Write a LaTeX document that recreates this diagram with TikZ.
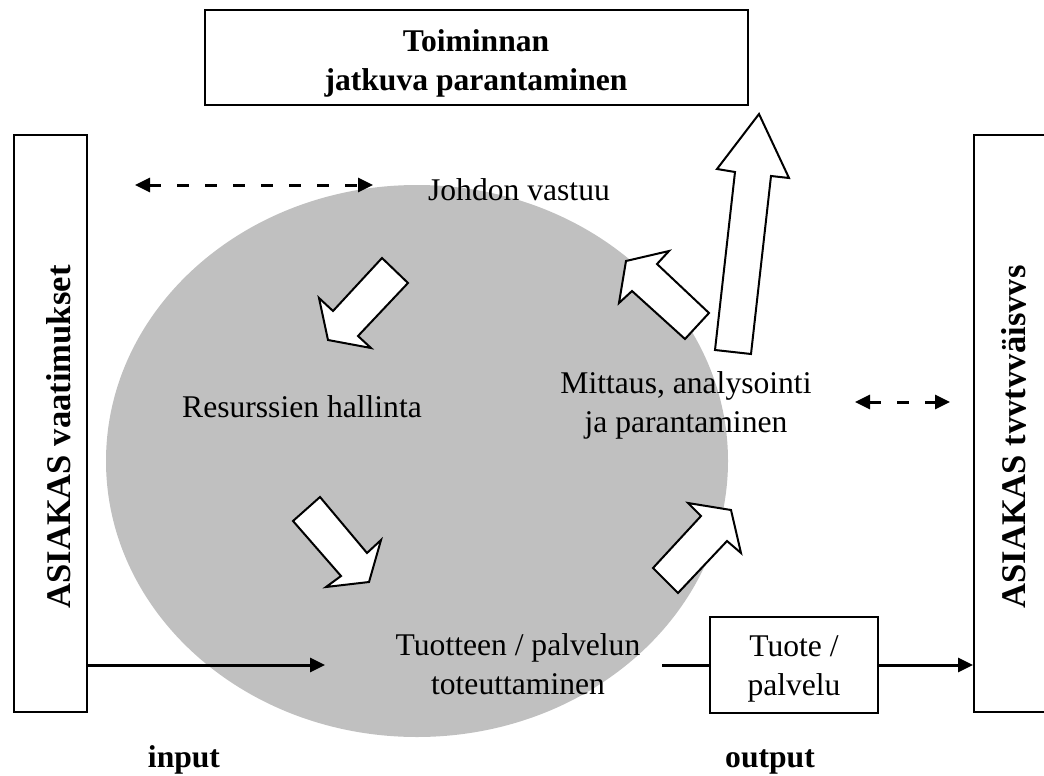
\documentclass[tikz,border=0pt]{standalone}
\usepackage{fontspec}
\setmainfont{Liberation Serif}
\usetikzlibrary{arrows.meta}
\definecolor{disc}{RGB}{192,192,192}

\begin{document}
\begin{tikzpicture}[x=0.5pt,y=-0.5pt,
  frame/.style={draw, line width=1pt, inner sep=0pt},
  lbl/.style={font=\fontsize{15.8}{19.3}\selectfont, inner sep=0pt, anchor=base, align=center},
  boldlbl/.style={lbl, font=\fontsize{15.8}{19.3}\selectfont\bfseries},
  sidelbl/.style={inner sep=0pt, anchor=base, rotate=90, font=\fontsize{17.3}{20}\selectfont\bfseries},
  tip/.tip={Triangle[length=7.5pt,width=7pt]},
  flow/.style={line width=1.5pt, -tip},
  plainflow/.style={line width=1.5pt},
  dflow/.style={line width=1.5pt, dash pattern=on 6pt off 8pt, tip-tip},
  blockarrow/.style={draw, fill=white, line width=1pt, line join=miter},
]
\useasboundingbox (0,0) rectangle (1044,776);
\clip (0,0) rectangle (1044,776);

% process circle
\fill[disc] (417,461) ellipse [x radius=311, y radius=276];

% frames
\node[frame, minimum width=271.5pt, minimum height=47.5pt] (top) at (476.5,57.5) {};
\node[frame, minimum width=36.5pt, minimum height=288.5pt] (lbox) at (50.5,423.5) {};
\node[frame, minimum width=45pt, minimum height=288.5pt] (rbox) at (1019,423.5) {};
\node[frame, minimum width=84pt, minimum height=48pt] (tbox) at (794,665) {};

% texts (base anchor = baseline of the last line)
\node[boldlbl] (toim) at (476,90) {Toiminnan\\jatkuva parantaminen};
\node[lbl] (johto) at (519,200) {Johdon vastuu};
\node[lbl] (resu) at (302,417) {Resurssien hallinta};
\node[lbl] (mitt) at (686,432) {Mittaus, analysointi\\ja parantaminen};
\node[lbl] (tuot) at (518,694) {Tuotteen / palvelun\\toteuttaminen};
\node[lbl] (tuote) at (794,695) {Tuote /\\palvelu};
\node[boldlbl] (inp) at (184,767) {input};
\node[boldlbl] (outp) at (770,767) {output};
\node[sidelbl] (vaat) at (70,437) {ASIAKAS vaatimukset};
\begin{scope}
  % the text frame cuts the descenders off at the baseline
  \clip (974,135) rectangle (1025,712);
  \node[sidelbl] (tyyt) at (1025,437) {ASIAKAS tyytyväisyys};
\end{scope}

% flow arrows
\coordinate (inend) at (325,665);
\coordinate (outstart) at (662,665);
\draw[flow] (lbox.east |- inend) -- (inend);
\draw[plainflow] (outstart) -- (tbox.west);
\draw[flow] (tbox.east) -- (rbox.west |- tbox.east);

% dashed two-way arrows
\coordinate (da1) at (135,185);
\coordinate (da2) at (373,185);
\coordinate (db1) at (855,402);
\coordinate (db2) at (950,402);
\draw[dflow] (da1) -- (da2);
\draw[dflow] (db1) -- (db2);

% block arrows of the cycle
\draw[blockarrow] (382,258) -- (408,283) -- (358,336) -- (371,348) -- (328,340) -- (319,298) -- (333,311) -- cycle;
\draw[blockarrow] (320,497) -- (367,553) -- (381,540) -- (369,582) -- (326,587) -- (341,576) -- (293,521) -- cycle;
\draw[blockarrow] (653,568) -- (701,516) -- (688,503) -- (731,510) -- (741,553) -- (727,541) -- (678,593) -- cycle;
\draw[blockarrow] (709,313) -- (657,264) -- (669,251) -- (626,261) -- (619,303) -- (632,291) -- (685,339) -- cycle;
\draw[blockarrow] (715,350) -- (735,172) -- (717,169) -- (759,114) -- (789,178) -- (771,176) -- (751,354) -- cycle;
\end{tikzpicture}
\end{document}
